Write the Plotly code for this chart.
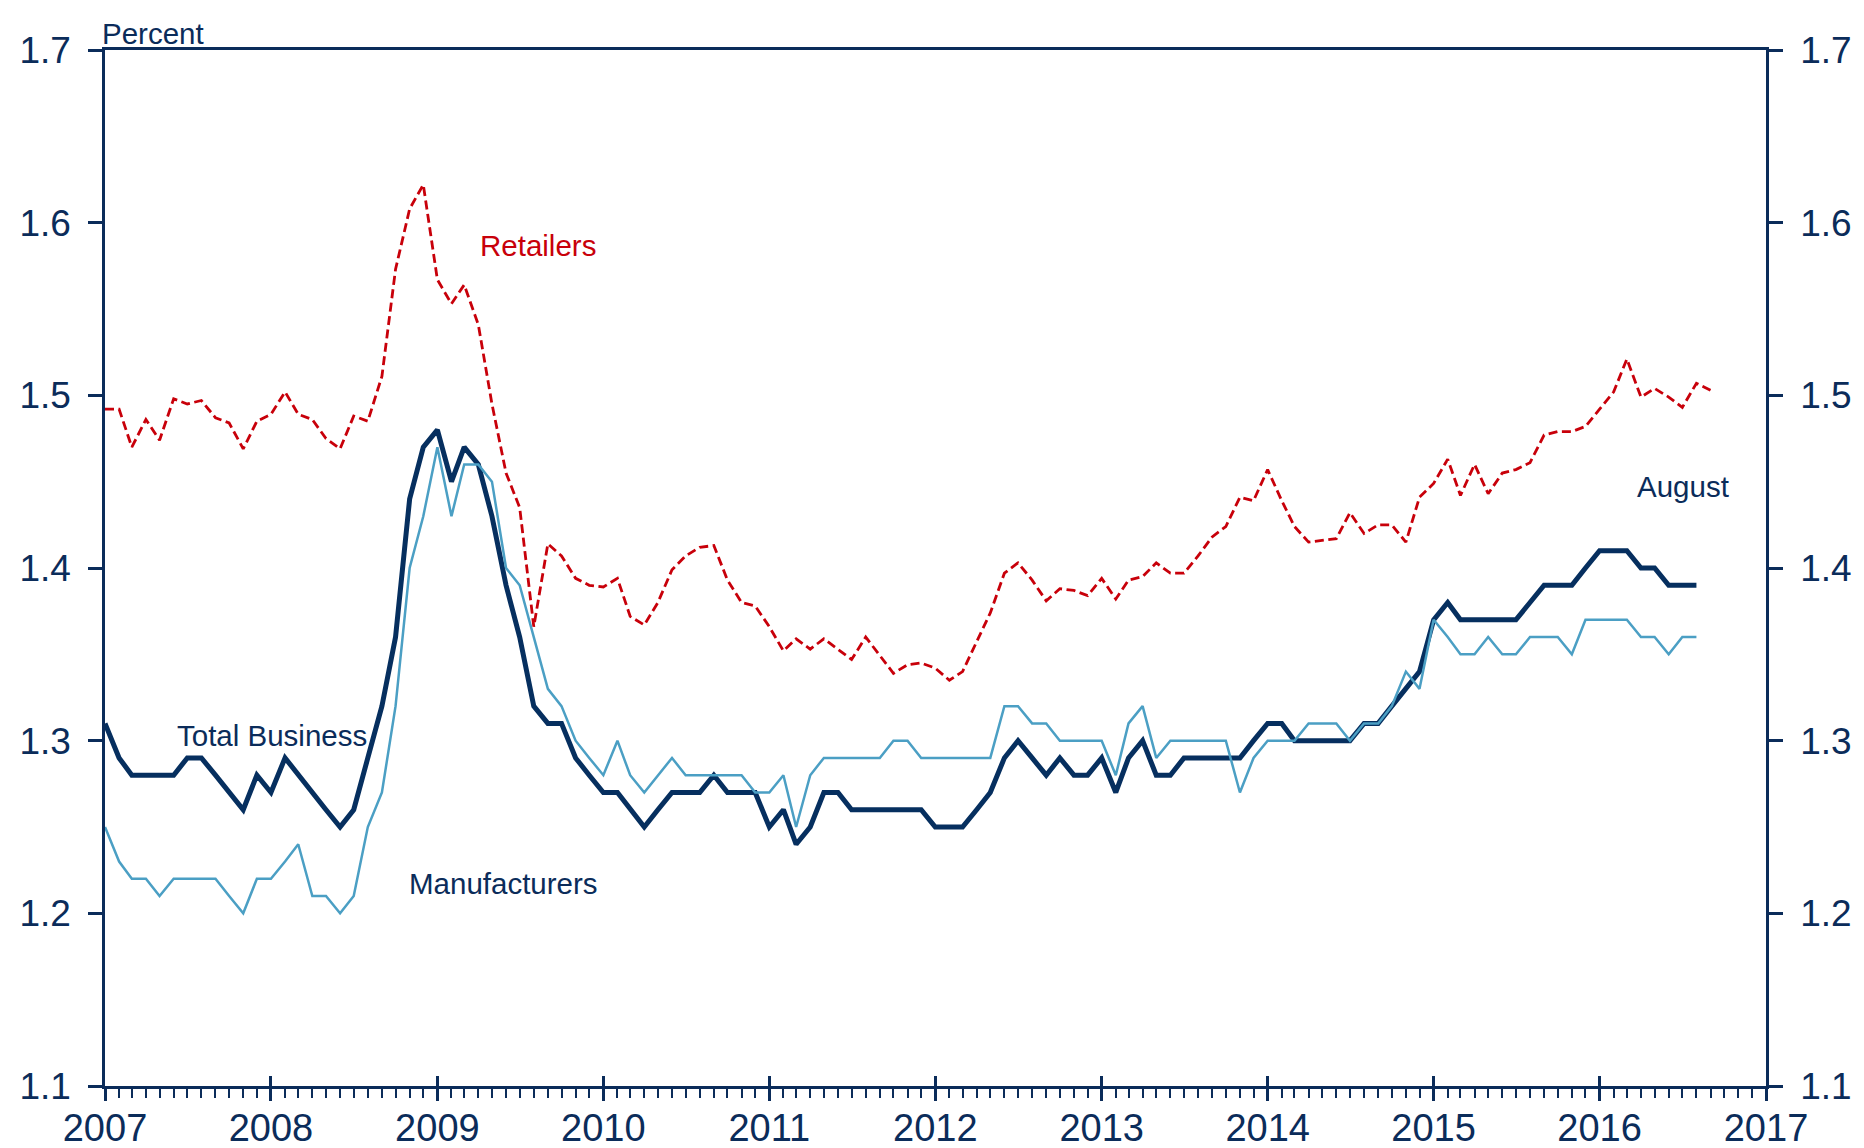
import pandas as pd
import plotly.graph_objects as go

# --- data (monthly, Jan 2007 onward) ---
months = pd.date_range("2007-01-01", periods=116, freq="MS")
months_retail = pd.date_range("2007-01-01", periods=117, freq="MS")

total_business = [
    1.31, 1.29, 1.28, 1.28, 1.28, 1.28, 1.29, 1.29, 1.28, 1.27, 1.26, 1.28,   # 2007
    1.27, 1.29, 1.28, 1.27, 1.26, 1.25, 1.26, 1.29, 1.32, 1.36, 1.44, 1.47,   # 2008
    1.48, 1.45, 1.47, 1.46, 1.43, 1.39, 1.36, 1.32, 1.31, 1.31, 1.29, 1.28,   # 2009
    1.27, 1.27, 1.26, 1.25, 1.26, 1.27, 1.27, 1.27, 1.28, 1.27, 1.27, 1.27,   # 2010
    1.25, 1.26, 1.24, 1.25, 1.27, 1.27, 1.26, 1.26, 1.26, 1.26, 1.26, 1.26,   # 2011
    1.25, 1.25, 1.25, 1.26, 1.27, 1.29, 1.30, 1.29, 1.28, 1.29, 1.28, 1.28,   # 2012
    1.29, 1.27, 1.29, 1.30, 1.28, 1.28, 1.29, 1.29, 1.29, 1.29, 1.29, 1.30,   # 2013
    1.31, 1.31, 1.30, 1.30, 1.30, 1.30, 1.30, 1.31, 1.31, 1.32, 1.33, 1.34,   # 2014
    1.37, 1.38, 1.37, 1.37, 1.37, 1.37, 1.37, 1.38, 1.39, 1.39, 1.39, 1.40,   # 2015
    1.41, 1.41, 1.41, 1.40, 1.40, 1.39, 1.39, 1.39,                           # 2016
]

manufacturers = [
    1.25, 1.23, 1.22, 1.22, 1.21, 1.22, 1.22, 1.22, 1.22, 1.21, 1.20, 1.22,
    1.22, 1.23, 1.24, 1.21, 1.21, 1.20, 1.21, 1.25, 1.27, 1.32, 1.40, 1.43,
    1.47, 1.43, 1.46, 1.46, 1.45, 1.40, 1.39, 1.36, 1.33, 1.32, 1.30, 1.29,
    1.28, 1.30, 1.28, 1.27, 1.28, 1.29, 1.28, 1.28, 1.28, 1.28, 1.28, 1.27,
    1.27, 1.28, 1.25, 1.28, 1.29, 1.29, 1.29, 1.29, 1.29, 1.30, 1.30, 1.29,
    1.29, 1.29, 1.29, 1.29, 1.29, 1.32, 1.32, 1.31, 1.31, 1.30, 1.30, 1.30,
    1.30, 1.28, 1.31, 1.32, 1.29, 1.30, 1.30, 1.30, 1.30, 1.30, 1.27, 1.29,
    1.30, 1.30, 1.30, 1.31, 1.31, 1.31, 1.30, 1.31, 1.31, 1.32, 1.34, 1.33,
    1.37, 1.36, 1.35, 1.35, 1.36, 1.35, 1.35, 1.36, 1.36, 1.36, 1.35, 1.37,
    1.37, 1.37, 1.37, 1.36, 1.36, 1.35, 1.36, 1.36,
]

retailers = [
    1.492, 1.492, 1.470, 1.486, 1.474, 1.498, 1.495, 1.497, 1.487, 1.484, 1.469, 1.485,
    1.489, 1.502, 1.489, 1.486, 1.475, 1.469, 1.488, 1.485, 1.511, 1.573, 1.608, 1.622,
    1.567, 1.553, 1.564, 1.541, 1.495, 1.455, 1.435, 1.366, 1.414, 1.407, 1.394, 1.390,
    1.389, 1.394, 1.372, 1.367, 1.380, 1.399, 1.407, 1.412, 1.413, 1.393, 1.380, 1.378,
    1.366, 1.352, 1.359, 1.353, 1.359, 1.353, 1.347, 1.360, 1.349, 1.339, 1.344, 1.345,
    1.342, 1.335, 1.340, 1.357, 1.374, 1.397, 1.403, 1.393, 1.381, 1.388, 1.387, 1.384,
    1.394, 1.382, 1.393, 1.395, 1.403, 1.397, 1.397, 1.407, 1.418, 1.424, 1.441, 1.439,
    1.457, 1.439, 1.424, 1.415, 1.416, 1.417, 1.432, 1.420, 1.425, 1.425, 1.415, 1.441,
    1.449, 1.463, 1.442, 1.460, 1.443, 1.455, 1.457, 1.461, 1.477, 1.479, 1.479, 1.482,
    1.492, 1.502, 1.521, 1.499, 1.504, 1.499, 1.493, 1.507, 1.503,
]

x_range = ["2007-01-01", "2017-01-01"]
y_range = [1.1, 1.7]

# --- styles ---
NAVY = "#0b2c5a"
TB_COLOR = "#062f5f"
MFG_COLOR = "#4b9fc4"
RET_COLOR = "#c8000a"
FONT = "Liberation Sans, Arial, sans-serif"

fig = go.Figure()

fig.add_trace(go.Scatter(
    x=months, y=total_business, mode="lines",
    line=dict(color=TB_COLOR, width=5), hoverinfo="skip"))
fig.add_trace(go.Scatter(
    x=months, y=manufacturers, mode="lines",
    line=dict(color=MFG_COLOR, width=2.5), hoverinfo="skip"))
fig.add_trace(go.Scatter(
    x=months_retail, y=retailers, mode="lines", xaxis="x2", yaxis="y2",
    line=dict(color=RET_COLOR, width=2.8, dash="9px,4.5px"), hoverinfo="skip"))

y_axis_common = dict(
    range=y_range, dtick=0.1, tick0=1.1, tickformat=".1f",
    showgrid=False, zeroline=False, automargin=False,
    showline=True, linecolor=NAVY, linewidth=2.5,
    ticks="outside", ticklen=14, tickwidth=2.5, tickcolor=NAVY,
    tickfont=dict(family=FONT, size=37, color=NAVY),
    ticklabelstandoff=10,
)

# the page adds an 8px body margin, so the figure is sized to fit inside the window
fig.update_layout(
    width=1856, height=1140,
    paper_bgcolor="white", plot_bgcolor="white",
    showlegend=False,
    margin=dict(l=97, r=98, t=42, b=62),
    font=dict(family=FONT, color=NAVY),
    xaxis=dict(
        type="date", range=x_range, automargin=False,
        dtick="M12", tick0="2007-01-01", tickformat="%Y",
        showgrid=False, zeroline=False,
        showline=True, mirror=True, linecolor=NAVY, linewidth=2.5,
        ticks="outside", ticklen=12, tickwidth=2.5, tickcolor=NAVY,
        tickfont=dict(family=FONT, size=38, color=NAVY),
        ticklabelstandoff=-5,
        minor=dict(dtick="M1", tick0="2007-01-01", ticks="outside",
                   ticklen=9, tickwidth=2, tickcolor=NAVY, showgrid=False),
    ),
    xaxis2=dict(
        type="date", range=x_range, overlaying="x", anchor="y2", side="bottom",
        dtick="M12", tick0="2007-01-01", automargin=False,
        showgrid=False, zeroline=False, showline=False, showticklabels=False,
        ticks="inside", ticklen=10, tickwidth=2.5, tickcolor=NAVY,
    ),
    yaxis=dict(side="left", **y_axis_common),
    yaxis2=dict(side="right", overlaying="y", anchor="x2", **y_axis_common),
)

# --- series labels ---
label_font = dict(family=FONT, size=29.5, color=NAVY)
fig.add_annotation(x="2009-04-01", y=1.587, text="Retailers", showarrow=False,
                   xanchor="left", yanchor="middle",
                   font=dict(family=FONT, size=29.5, color=RET_COLOR))
fig.add_annotation(x="2007-06-03", y=1.303, text="Total Business", showarrow=False,
                   xanchor="left", yanchor="middle", font=label_font)
fig.add_annotation(x="2008-10-27", y=1.217, text="Manufacturers", showarrow=False,
                   xanchor="left", yanchor="middle", font=label_font)
fig.add_annotation(x="2016-03-19", y=1.447, text="August", showarrow=False,
                   xanchor="left", yanchor="middle", font=label_font)
fig.add_annotation(xref="paper", yref="paper", x=-0.003, y=1.016, text="Percent",
                   showarrow=False, xanchor="left", yanchor="middle", font=label_font)

fig.write_html("out.html")
